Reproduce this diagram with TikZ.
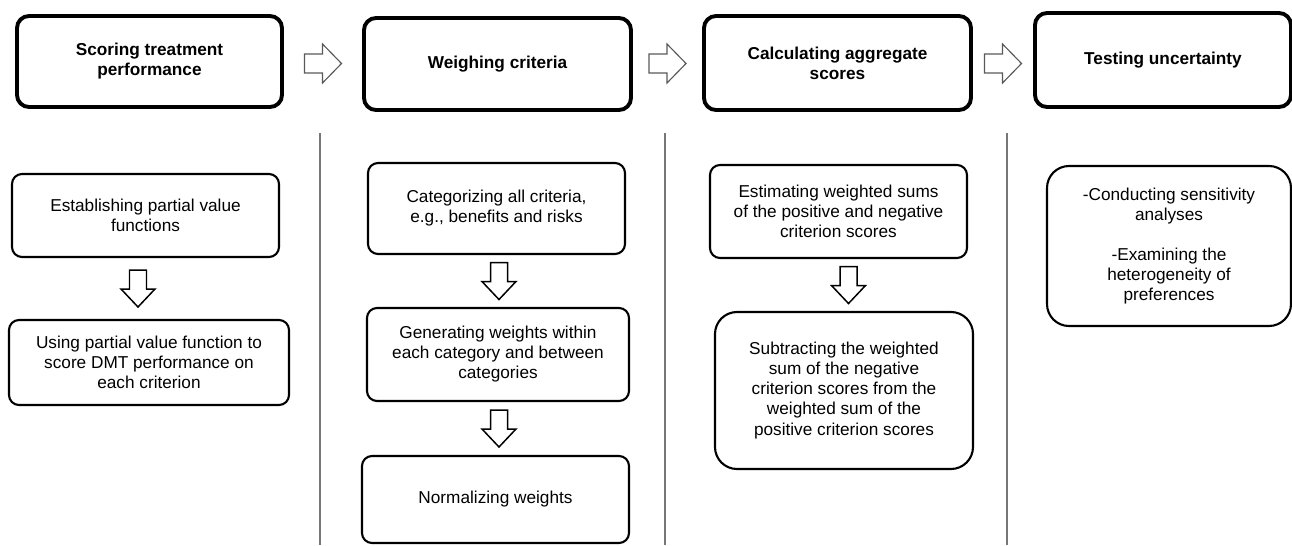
\documentclass[tikz,border=0pt]{standalone}
\usepackage{fontspec}
\setmainfont{Liberation Sans}
\usetikzlibrary{positioning,calc}
\definecolor{gris}{HTML}{595959}
\definecolor{linea}{HTML}{777777}
\newcommand\unidad{0.02cm}

\begin{document}
\begin{tikzpicture}[x=0.02cm, y=-0.02cm,
  font=\fontsize{9.8}{11.4}\selectfont,
  etapa/.style={draw, line width=2.2pt, rounded corners=0.24cm, align=center,
    inner sep=0pt, font=\fontsize{9.8}{11.4}\selectfont\bfseries},
  paso/.style={draw, line width=1.2pt, rounded corners=0.2cm, align=center, inner sep=0pt},
  ancha/.pic={\draw[gris, line width=0.65pt, line join=miter]
    (-18.5,-9.5) -- (-0.5,-9.5) -- (-0.5,-19.5) -- (18.5,0) -- (-0.5,19.5) -- (-0.5,9.5) -- (-18.5,9.5) -- cycle;},
  baja/.pic={\draw[black, line width=0.85pt, line join=miter]
    (-18.5,-8.5) -- (0.5,-8.5) -- (0.5,-17) -- (18.5,0) -- (0.5,17) -- (0.5,8.5) -- (-18.5,8.5) -- cycle;}]
  \useasboundingbox (0,0) rectangle (1292,545);
  % columnas separadas
  \foreach \x in {320,665,1007}{\draw[linea, line width=0.8pt] (\x,133) -- (\x,545);}
  % etapas principales
  \node[etapa, minimum width=265*\unidad, minimum height=91*\unidad] (puntuar) at (149.5,61.5) {Scoring treatment\\performance};
  \node[etapa, minimum width=267*\unidad, minimum height=92*\unidad] (ponderar) at (497.5,64) {Weighing criteria};
  \node[etapa, minimum width=267*\unidad, minimum height=94*\unidad] (agregar) at (837.5,63) {Calculating aggregate\\scores};
  \node[etapa, minimum width=256*\unidad, minimum height=94*\unidad] (incertidumbre) at (1163,60) {Testing uncertainty};
  % flechas entre etapas
  \coordinate (fila) at (0,63.5);
  \foreach \a/\b/\n in {puntuar/ponderar/1,ponderar/agregar/2,agregar/incertidumbre/3}{
    \path (\a.east |- fila) -- (\b.west |- fila) coordinate[pos=0.5] (m\n);
    \pic at (m\n) {ancha};
  }
  % columna 1
  \node[paso, minimum width=267*\unidad, minimum height=83*\unidad] (parcial) at (145.5,215.5) {Establishing partial value\\functions};
  \node[paso, minimum width=280*\unidad, minimum height=85*\unidad] (usar) at (149,362.5) {Using partial value function to\\score DMT performance on\\each criterion};
  % columna 2
  \node[paso, minimum width=257*\unidad, minimum height=91*\unidad] (categorias) at (496.5,208.5) {Categorizing all criteria,\\e.g., benefits and risks};
  \node[paso, minimum width=262*\unidad, minimum height=93*\unidad] (pesos) at (498,354.5) {Generating weights within\\each category and between\\categories};
  \node[paso, minimum width=267*\unidad, minimum height=87*\unidad] (normalizar) at (495.5,499.5) {Normalizing weights};
  % columna 3
  \node[paso, minimum width=257*\unidad, minimum height=93*\unidad] (sumas) at (838.5,211.5) {Estimating weighted sums\\of the positive and negative\\criterion scores};
  \node[paso, rounded corners=0.44cm, minimum width=258*\unidad, minimum height=157*\unidad] (restar) at (844,390.5) {Subtracting the weighted\\sum of the negative\\criterion scores from the\\weighted sum of the\\positive criterion scores};
  % columna 4
  \node[paso, rounded corners=0.44cm, minimum width=244*\unidad, minimum height=160*\unidad] (sensibilidad) at (1169,246) {-Conducting sensitivity\\analyses\\[11.4pt]-Examining the\\heterogeneity of\\preferences};
  % flechas hacia abajo
  \coordinate (colA) at (138,0);
  \coordinate (colB) at (499,0);
  \coordinate (colC) at (848.5,0);
  \foreach \a/\b/\c/\n in {parcial/usar/colA/1,categorias/pesos/colB/2,pesos/normalizar/colB/3,sumas/restar/colC/4}{
    \path (\a.south -| \c) -- (\b.north -| \c) coordinate[pos=0.5] (d\n);
    \pic[rotate=-90] at (d\n) {baja};
  }
\end{tikzpicture}
\end{document}
